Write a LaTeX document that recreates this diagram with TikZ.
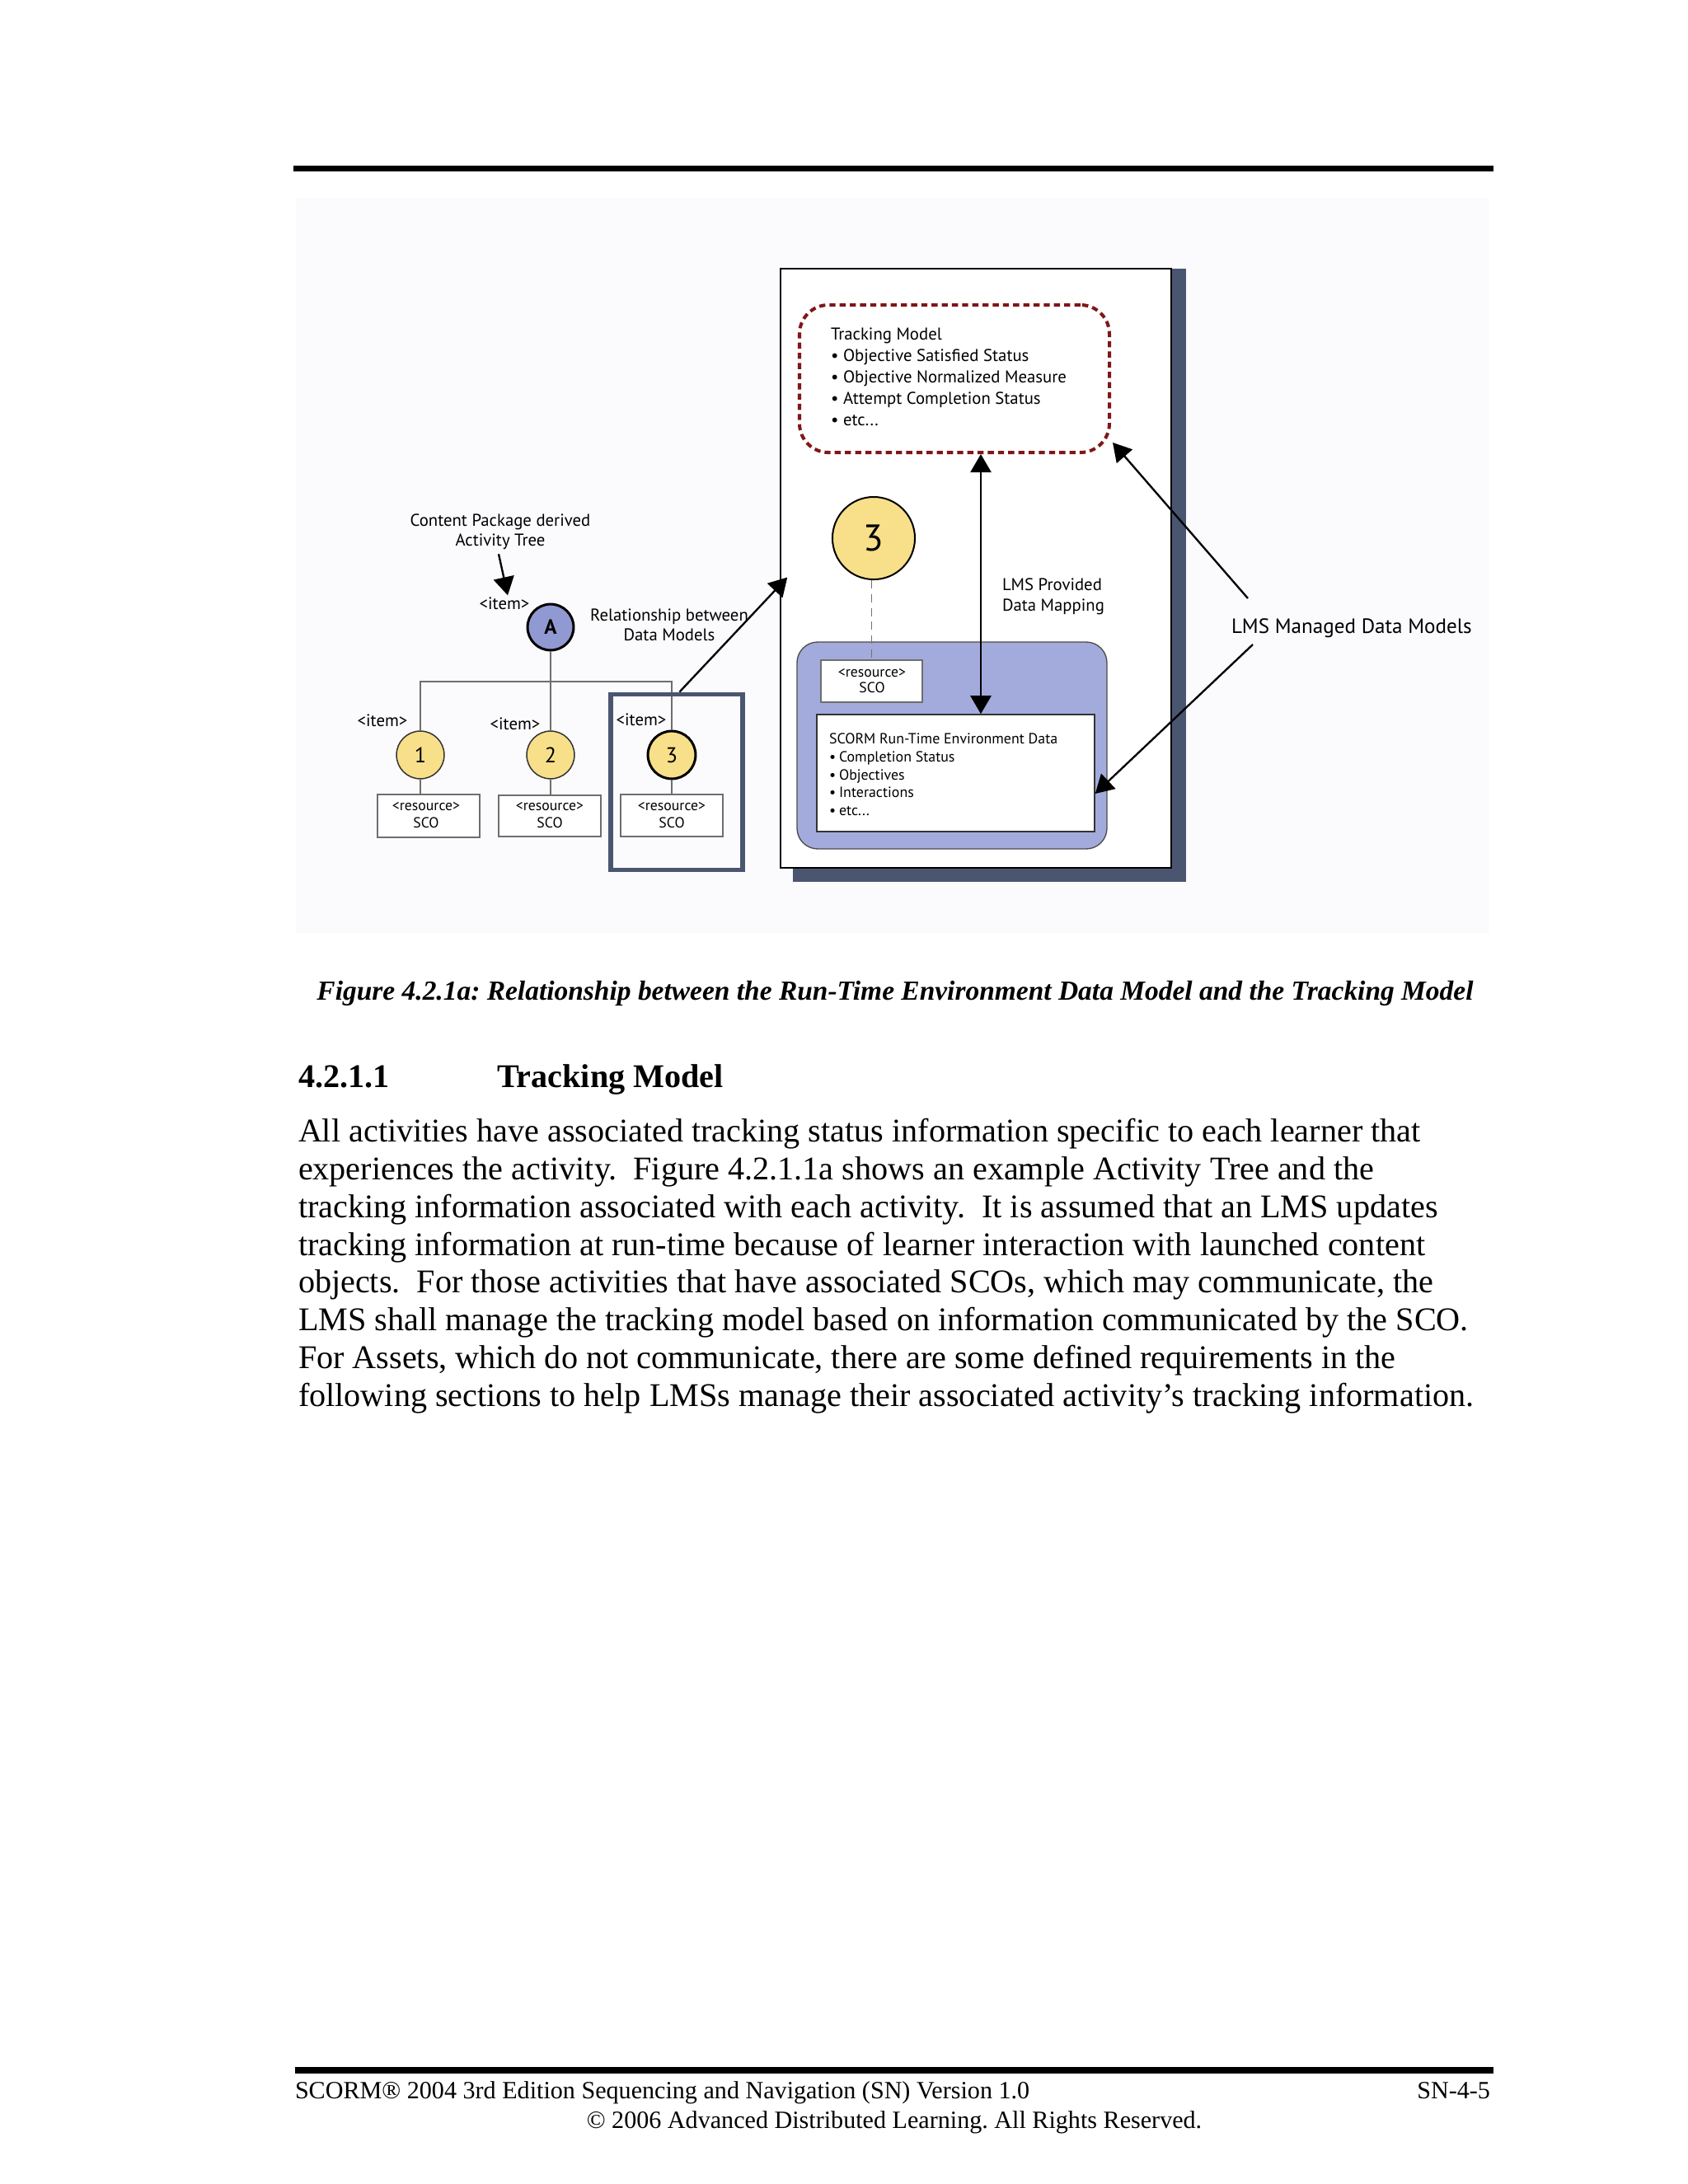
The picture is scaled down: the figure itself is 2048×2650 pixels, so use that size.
\documentclass[tikz,border=0pt]{standalone}
\usepackage{fontspec}
\setmainfont{Liberation Serif}
\newfontfamily\dfont{PT Sans}
\usetikzlibrary{arrows.meta,calc}
\definecolor{shadowc}{RGB}{74,85,112}
\definecolor{trackred}{RGB}{128,22,24}
\definecolor{yellowc}{RGB}{248,223,138}
\definecolor{bluea}{RGB}{145,153,211}
\definecolor{bluepanel}{RGB}{162,171,219}
\definecolor{treegray}{RGB}{110,110,110}
\definecolor{figbg}{RGB}{251,250,252}
\newcommand\bulA{\makebox[4.5pt][l]{\textbullet}}
\newcommand\bulB{\makebox[3.6pt][l]{\textbullet}}
\begin{document}
\begin{tikzpicture}[x=0.29883pt,y=-0.29883pt,
  txt/.style={inner sep=0pt,outer sep=0pt},
  dA/.style={txt,font=\dfont\fontsize{6.2pt}{7.5pt}\selectfont},
  dB/.style={txt,font=\dfont\fontsize{5.35pt}{6.5pt}\selectfont},
  dR/.style={txt,font=\dfont\fontsize{5.3pt}{6.3pt}\selectfont},
  dL/.style={txt,font=\dfont\fontsize{7.5pt}{9pt}\selectfont},
  body/.style={txt,anchor=base west,font=\fontsize{12pt}{14pt}\selectfont},
  foot/.style={txt,font=\fontsize{9pt}{11pt}\selectfont\frenchspacing},
  arr/.style={line width=0.7pt,-{Triangle[width=7.5pt,length=6.6pt]}},
  dblarr/.style={line width=0.7pt,{Triangle[width=7.5pt,length=6.6pt]}-{Triangle[width=7.5pt,length=6.6pt]}},
  treeline/.style={draw=treegray,line width=0.75pt},
  resbox/.style={draw=treegray,line width=0.45pt,fill=white,inner sep=0pt},
  smallcirc/.style={circle,fill=yellowc,inner sep=0pt,minimum size=17.3pt,
     font=\dfont\fontsize{7.8pt}{8pt}\selectfont}
]
\useasboundingbox (0,0) rectangle (2048,2650);
\fill[white] (0,0) rectangle (2048,2650);
% rules
\fill[black] (356,201) rectangle (1812,208);
\fill[black] (358,2508) rectangle (1812,2516);
% figure background
\fill[figbg] (359,241) rectangle (1806,1132);

% panel with shadow
\fill[shadowc] (962,326) rectangle (1439,1070);
\node[draw=black,line width=0.45pt,fill=white,inner sep=0pt,minimum width=474*0.29883pt,
  minimum height=727*0.29883pt] (panel) at (1184,689.5) {};

% tracking model box
\node[draw=trackred,line width=1.2pt,dash pattern=on 2.2pt off 1.5pt,rounded corners=10.5pt,
  inner sep=0pt,minimum width=376*0.29883pt,minimum height=179*0.29883pt] (track) at (1158,459.5) {};
\node[dA,anchor=base west] (t1) at (1008,412) {Tracking Model};
\node[dA,anchor=base west] (t2) at (1008,438) {\bulA Objective Satisfied Status};
\node[dA,anchor=base west] (t3) at (1008,464) {\bulA Objective Normalized Measure};
\node[dA,anchor=base west] (t4) at (1008,490) {\bulA Attempt Completion Status};
\node[dA,anchor=base west] (t5) at (1008,516) {\bulA etc...};

% big circle 3
\node[circle,draw=black,line width=0.6pt,fill=yellowc,inner sep=0pt,minimum size=29.9pt,
  font=\dfont\fontsize{13.5pt}{13.5pt}\selectfont] (big3) at (1060,653) {3};

% blue panel
\node[draw=black!70,line width=0.4pt,fill=bluepanel,rounded corners=7.5pt,inner sep=0pt,
  minimum width=376*0.29883pt,minimum height=251*0.29883pt] (bluep) at (1155,904.5) {};
\node[draw=treegray,line width=0.45pt,fill=white,inner sep=0pt,minimum width=123*0.29883pt,
  minimum height=51*0.29883pt] (pres) at (1057.5,826.5) {};
\node[dR,anchor=base] (pres1) at (1058,821) {<resource>};
\node[dR,anchor=base] (pres2) at (1058,840) {SCO};
\draw[black!55,line width=0.5pt,dash pattern=on 3pt off 2pt] (big3.south -| pres.north) -- (pres.north);

\node[draw=black!80,line width=0.45pt,fill=white,inner sep=0pt,minimum width=337*0.29883pt,
  minimum height=142*0.29883pt] (rte) at (1159.5,938) {};
\node[dB,anchor=base west] (r1) at (1006,902) {SCORM Run-Time Environment Data};
\node[dB,anchor=base west] (r2) at (1006,924) {\bulB Completion Status};
\node[dB,anchor=base west] (r3) at (1006,946) {\bulB Objectives};
\node[dB,anchor=base west] (r4) at (1006,967) {\bulB Interactions};
\node[dB,anchor=base west] (r5) at (1006,989) {\bulB etc...};

% mapping arrow
\draw[dblarr] ($(track.south)+(32,0)$) -- ($(rte.north)+(30.5,0)$);
\node[dA,anchor=base west] (lp1) at (1216,716) {LMS Provided};
\node[dA,anchor=base west] (lp2) at (1216,741) {Data Mapping};

% LMS managed
\node[dL,anchor=base west] (lmsm) at (1494,768) {LMS Managed Data Models};
\coordinate (m1) at (1514,726);
\coordinate (m2) at (1520,782);
\draw[arr] (m1) -- ($(track.south east)+(2,-14)$);
\draw[arr] (m2) -- ($(rte.east)+(0,25)$);

% tree
\node[circle,draw=black,line width=0.9pt,fill=bluea,inner sep=0pt,minimum size=16.7pt,
  font=\dfont\bfseries\fontsize{7.5pt}{7.5pt}\selectfont] (A) at (668,761) {A};
\node[smallcirc,draw=black!80,line width=0.45pt] (c1) at (510,916) {1};
\node[smallcirc,draw=black!80,line width=0.45pt] (c2) at (668,916) {2};
\node[smallcirc,draw=black,line width=0.9pt] (c3) at (815,916) {3};
\coordinate (bar) at (0,827);
\node[resbox,minimum width=124*0.29883pt,minimum height=52*0.29883pt] (rb1) at (520,990) {};
\node[resbox,minimum width=124*0.29883pt,minimum height=50*0.29883pt] (rb2) at (667,990) {};
\node[resbox,minimum width=124*0.29883pt,minimum height=51*0.29883pt] (rb3) at (815,989.5) {};
\draw[treeline] (A.south) -- (c2.north);
\draw[treeline] (c1.north) -- (c1.north |- bar) -- (c3.north |- bar) -- (c3.north);
\draw[treeline] (c1.south) -- (c1.south |- rb1.north);
\draw[treeline] (c2.south) -- (c2.south |- rb2.north);
\draw[treeline] (c3.south) -- (c3.south |- rb3.north);
\node[dR,anchor=base] (rb1a) at (517,983) {<resource>};
\node[dR,anchor=base] (rb1b) at (517,1004) {SCO};
\node[dR,anchor=base] (rb2a) at (667,983) {<resource>};
\node[dR,anchor=base] (rb2b) at (667,1004) {SCO};
\node[dR,anchor=base] (rb3a) at (815,983) {<resource>};
\node[dR,anchor=base] (rb3b) at (815,1004) {SCO};
\node[dA,anchor=base] (iA) at (612,739) {<item>};
\node[dA,anchor=base] (i1) at (464,881) {<item>};
\node[dA,anchor=base] (i2) at (625,885) {<item>};
\node[dA,anchor=base] (i3) at (778,880) {<item>};
\node[draw=shadowc,line width=1.5pt,inner sep=0pt,minimum width=160*0.29883pt,
  minimum height=213*0.29883pt] (hl) at (821,948.5) {};
\node[dA,anchor=base] (cp1) at (607,638) {Content Package derived};
\node[dA,anchor=base] (cp2) at (607,662) {Activity Tree};
\draw[arr] ($(cp2.south)+(-2,6)$) -- ($(iA.north)+(4,-2)$);
\node[dA,anchor=base] (rel1) at (812,753) {Relationship between};
\node[dA,anchor=base] (rel2) at (812,777) {Data Models};
\draw[arr] ($(hl.north west)+(86,0)$) -- ($(panel.west)+(9,11)$);

% caption and text
\node[txt,anchor=base,font=\fontsize{10pt}{12pt}\selectfont\bfseries\itshape\frenchspacing] (cap) at (1086,1213)
  {Figure 4.2.1a: Relationship between the Run-Time Environment Data Model and the Tracking Model};
\node[txt,anchor=base west,font=\fontsize{12pt}{14pt}\selectfont\bfseries] (h1) at (362,1319) {4.2.1.1};
\node[txt,anchor=base west,font=\fontsize{12pt}{14pt}\selectfont\bfseries] (h2) at (603,1319) {Tracking Model};
\node[body] (b1) at (362,1385) {All activities have associated tracking status information specific to each learner that};
\node[body] (b2) at (362,1431) {experiences the activity.\ \ Figure 4.2.1.1a shows an example Activity Tree and the};
\node[body] (b3) at (362,1477) {tracking information associated with each activity.\ \ It is assumed that an LMS updates};
\node[body] (b4) at (362,1523) {tracking information at run-time because of learner interaction with launched content};
\node[body] (b5) at (362,1568) {objects.\ \ For those activities that have associated SCOs, which may communicate, the};
\node[body] (b6) at (362,1614) {LMS shall manage the tracking model based on information communicated by the SCO.};
\node[body] (b7) at (362,1660) {For Assets, which do not communicate, there are some defined requirements in the};
\node[body] (b8) at (362,1706) {following sections to help LMSs manage their associated activity’s tracking information.};
% footer
\node[foot,anchor=base west] (f1) at (358,2546) {SCORM® 2004 3rd Edition Sequencing and Navigation (SN) Version 1.0};
\node[foot,anchor=base east] (f2) at (1808,2546) {SN-4-5};
\node[foot,anchor=base] (f3) at (1085,2582) {© 2006 Advanced Distributed Learning. All Rights Reserved.};
\end{tikzpicture}
\end{document}
